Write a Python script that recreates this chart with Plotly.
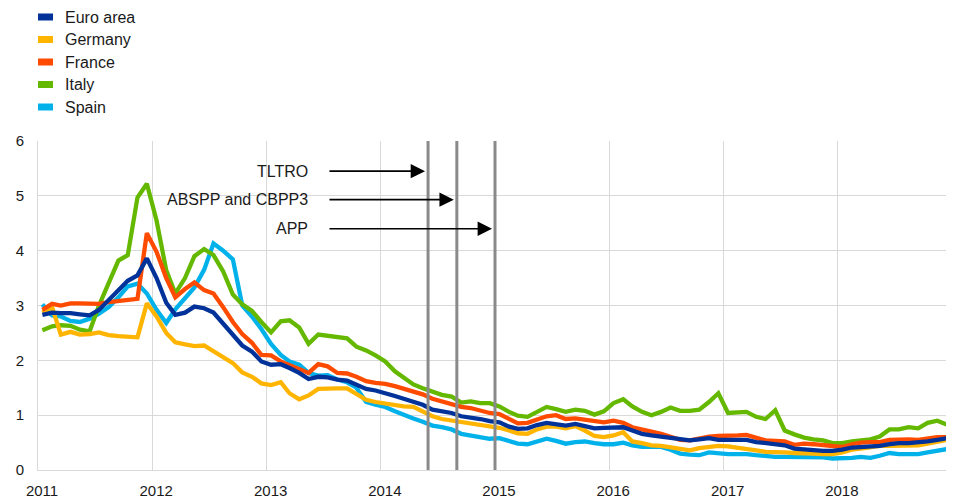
import pandas as pd
import plotly.graph_objects as go

# monthly data, Jan 2011 - Dec 2018 (percentages per annum)
months = pd.date_range("2011-01-01", periods=96, freq="MS") + pd.Timedelta(days=14)

euro_area = [
    2.83, 2.87, 2.86, 2.86, 2.84, 2.82, 2.92, 3.10, 3.30, 3.45, 3.55, 3.86,
    3.50, 3.05, 2.83, 2.87, 2.98, 2.95, 2.87, 2.66, 2.45, 2.27, 2.16, 1.98,
    1.92, 1.93, 1.86, 1.77, 1.66, 1.70, 1.69, 1.65, 1.63, 1.56, 1.48, 1.45,
    1.41, 1.35, 1.30, 1.25, 1.19, 1.10, 1.07, 1.04, 0.98, 0.96, 0.93, 0.89,
    0.87, 0.79, 0.75, 0.76, 0.82, 0.86, 0.84, 0.81, 0.84, 0.80, 0.76, 0.77,
    0.78, 0.78, 0.72, 0.66, 0.63, 0.61, 0.59, 0.56, 0.54, 0.56, 0.58, 0.55,
    0.55, 0.54, 0.55, 0.51, 0.49, 0.46, 0.45, 0.39, 0.37, 0.36, 0.35, 0.35,
    0.37, 0.41, 0.42, 0.42, 0.44, 0.47, 0.49, 0.49, 0.50, 0.52, 0.55, 0.58,
]
germany = [
    2.87, 2.97, 2.47, 2.52, 2.47, 2.48, 2.51, 2.46, 2.44, 2.43, 2.42, 3.04,
    2.80, 2.50, 2.33, 2.29, 2.26, 2.27, 2.17, 2.05, 1.95, 1.78, 1.70, 1.58,
    1.55, 1.60, 1.40, 1.29, 1.36, 1.48, 1.49, 1.49, 1.49, 1.38, 1.28, 1.24,
    1.21, 1.20, 1.16, 1.15, 1.07, 0.98, 0.93, 0.90, 0.87, 0.85, 0.82, 0.78,
    0.77, 0.72, 0.67, 0.66, 0.74, 0.79, 0.79, 0.76, 0.80, 0.72, 0.62, 0.60,
    0.63, 0.69, 0.52, 0.49, 0.45, 0.44, 0.42, 0.39, 0.36, 0.40, 0.43, 0.44,
    0.43, 0.41, 0.38, 0.36, 0.33, 0.33, 0.32, 0.31, 0.31, 0.30, 0.29, 0.29,
    0.32, 0.37, 0.39, 0.42, 0.44, 0.44, 0.44, 0.44, 0.45, 0.48, 0.51, 0.55,
]
france = [
    2.92, 3.03, 3.00, 3.04, 3.04, 3.03, 3.03, 3.06, 3.08, 3.10, 3.12, 4.32,
    3.98, 3.50, 3.15, 3.30, 3.42, 3.28, 3.22, 2.97, 2.70, 2.48, 2.32, 2.10,
    2.09, 1.98, 1.92, 1.84, 1.77, 1.93, 1.89, 1.77, 1.76, 1.70, 1.62, 1.59,
    1.57, 1.53, 1.48, 1.43, 1.38, 1.30, 1.25, 1.20, 1.15, 1.13, 1.08, 1.04,
    1.02, 0.92, 0.85, 0.86, 0.92, 0.98, 1.00, 0.93, 0.94, 0.92, 0.88, 0.87,
    0.90, 0.86, 0.78, 0.73, 0.70, 0.66, 0.61, 0.55, 0.54, 0.58, 0.61, 0.62,
    0.62, 0.63, 0.64, 0.58, 0.54, 0.53, 0.52, 0.46, 0.48, 0.47, 0.45, 0.43,
    0.42, 0.47, 0.50, 0.51, 0.51, 0.55, 0.56, 0.56, 0.55, 0.58, 0.60, 0.60,
]
italy = [
    2.55, 2.62, 2.64, 2.63, 2.56, 2.53, 3.00, 3.40, 3.82, 3.92, 4.97, 5.22,
    4.55, 3.64, 3.22, 3.50, 3.90, 4.03, 3.92, 3.62, 3.20, 3.02, 2.90, 2.70,
    2.51, 2.71, 2.73, 2.60, 2.30, 2.47, 2.45, 2.41, 2.40, 2.25, 2.18, 2.09,
    1.98, 1.80, 1.68, 1.56, 1.49, 1.42, 1.37, 1.34, 1.23, 1.25, 1.22, 1.22,
    1.16, 1.06, 0.99, 0.97, 1.06, 1.15, 1.11, 1.06, 1.10, 1.08, 1.01, 1.07,
    1.22, 1.29, 1.16, 1.06, 1.00, 1.06, 1.14, 1.08, 1.08, 1.10, 1.24, 1.40,
    1.04, 1.05, 1.06, 0.97, 0.93, 1.09, 0.72, 0.65, 0.59, 0.56, 0.54, 0.49,
    0.49, 0.52, 0.54, 0.56, 0.61, 0.74, 0.74, 0.78, 0.76, 0.86, 0.90, 0.83,
]
spain = [
    3.02, 2.82, 2.80, 2.72, 2.70, 2.76, 2.85, 2.97, 3.15, 3.35, 3.40, 3.22,
    2.92, 2.68, 2.93, 3.13, 3.33, 3.65, 4.13, 4.00, 3.84, 3.00, 2.80, 2.57,
    2.30, 2.10, 1.98, 1.92, 1.77, 1.72, 1.73, 1.65, 1.60, 1.50, 1.24, 1.19,
    1.15, 1.07, 1.00, 0.94, 0.88, 0.81, 0.78, 0.74, 0.66, 0.63, 0.59, 0.57,
    0.58, 0.52, 0.48, 0.47, 0.52, 0.57, 0.53, 0.48, 0.51, 0.52, 0.49, 0.47,
    0.47, 0.50, 0.45, 0.42, 0.42, 0.42, 0.37, 0.30, 0.28, 0.27, 0.32, 0.30,
    0.29, 0.29, 0.29, 0.27, 0.25, 0.24, 0.24, 0.24, 0.24, 0.24, 0.23, 0.21,
    0.21, 0.22, 0.24, 0.22, 0.26, 0.31, 0.29, 0.29, 0.29, 0.32, 0.35, 0.38,
]

names = ["Euro area", "Germany", "France", "Italy", "Spain"]
colors = ["#003299", "#ffb400", "#ff4b00", "#65b800", "#00b1ea"]
series = [euro_area, germany, france, italy, spain]
# draw order: Spain at the back ... Euro area on top
draw_order = [4, 3, 1, 2, 0]

# policy measures: label, date, arrow height
event_labels = ["TLTRO", "ABSPP and CBPP3", "APP"]
event_dates = ["2014-06-01", "2014-09-01", "2015-01-01"]
event_levels = [5.45, 4.93, 4.40]

year_ticks = [f"{y}-01-01" for y in range(2011, 2019)]
year_text = [str(y) for y in range(2011, 2019)]

FONT = "Arial, Liberation Sans, sans-serif"
TXT = "#1a1a1a"
# the page body has an 8px margin, so the figure is a bit smaller than the window
W, H = 946, 492
L, R, T, B = 30, 2, 133, 30

fig = go.Figure()
for i in draw_order:
    fig.add_trace(go.Scatter(
        x=months, y=series[i], name=names[i], mode="lines",
        line=dict(color=colors[i], width=4.3), showlegend=False,
    ))

for d in event_dates:
    fig.add_shape(type="line", xref="x", yref="y", x0=d, x1=d, y0=0, y1=6,
                  line=dict(color="#8a8a8a", width=3), layer="above")

for lab, d, lev in zip(event_labels, event_dates, event_levels):
    fig.add_annotation(x=d, y=lev, ax="2013-07-16", ay=lev, axref="x", ayref="y",
                       xref="x", yref="y", text="", showarrow=True,
                       arrowhead=2, arrowsize=1.8, arrowwidth=1.6,
                       arrowcolor="#000000", standoff=3)
    fig.add_annotation(x="2013-05-20", y=lev, xref="x", yref="y", text=lab,
                       showarrow=False, xanchor="right", yanchor="middle",
                       font=dict(family=FONT, size=16, color=TXT))


# legend drawn by hand, figure pixel positions converted to paper coordinates
def px_x(p):
    return (p - L) / (W - L - R)


def px_y(p):
    return (H - B - p) / (H - T - B)


for k, (nm, c) in enumerate(zip(names, colors)):
    yc = 9 + k * 22.5
    fig.add_shape(type="rect", xref="paper", yref="paper",
                  x0=px_x(30), x1=px_x(45), y0=px_y(yc + 3.5), y1=px_y(yc - 3.5),
                  fillcolor=c, line=dict(width=0))
    fig.add_annotation(xref="paper", yref="paper", x=px_x(55), y=px_y(yc),
                       text=nm, showarrow=False, xanchor="left", yanchor="middle",
                       font=dict(family=FONT, size=16, color=TXT))

fig.update_layout(
    width=W, height=H,
    margin=dict(l=L, r=R, t=T, b=B),
    paper_bgcolor="white", plot_bgcolor="white",
    font=dict(family=FONT, size=15, color=TXT),
    showlegend=False,
    xaxis=dict(
        range=["2011-01-01", "2019-01-01"], tickvals=year_ticks, ticktext=year_text,
        showgrid=True, gridcolor="#d9d9d9", gridwidth=1,
        showline=True, linecolor="#d9d9d9", linewidth=1,
        ticks="", ticklabelshift=4, ticklabelstandoff=7, zeroline=False,
    ),
    yaxis=dict(
        range=[0, 6], dtick=1, showgrid=True, gridcolor="#d9d9d9", gridwidth=1,
        showline=True, linecolor="#d9d9d9", linewidth=1,
        ticks="", ticklabelstandoff=10, zeroline=False,
    ),
)

fig.write_html("out.html")
